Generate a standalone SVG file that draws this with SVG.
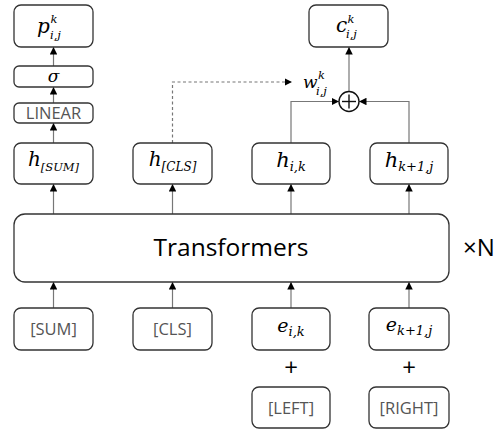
<svg xmlns="http://www.w3.org/2000/svg" width="502" height="430" viewBox="0 0 502 430">
<defs>
<style>
.box{fill:#fff;stroke:#333;stroke-width:1.3}
.lbl{font-family:"Open Sans","Noto Sans",sans-serif;font-size:16.5px;fill:#555;text-anchor:middle}
.m{font-family:"DejaVu Serif",serif;font-style:italic;fill:#000}
.mc{text-anchor:middle}
.c{fill:none;stroke:#777;stroke-width:1.2}
.d{stroke-dasharray:3,2.5}
.big{font-family:"Open Sans","Noto Sans",sans-serif;fill:#000}
</style>
<marker id="ah" viewBox="0 0 8 8" refX="8" refY="4" markerWidth="7.5" markerHeight="7.5" markerUnits="userSpaceOnUse" orient="auto">
<path d="M0,0 L8,4 L0,8 Z" fill="#000"/>
</marker>
</defs>
<rect width="502" height="430" fill="#fff"/>

<g id="connectors">
<line class="c" x1="53.5" y1="143" x2="53.5" y2="123" marker-end="url(#ah)"/>
<line class="c" x1="53.5" y1="103" x2="53.5" y2="87" marker-end="url(#ah)"/>
<line class="c" x1="53.5" y1="66" x2="53.5" y2="47" marker-end="url(#ah)"/>
<line class="c" x1="53.5" y1="214" x2="53.5" y2="184" marker-end="url(#ah)"/>
<line class="c" x1="172.5" y1="214" x2="172.5" y2="184" marker-end="url(#ah)"/>
<line class="c" x1="291" y1="214" x2="291" y2="184" marker-end="url(#ah)"/>
<line class="c" x1="409" y1="214" x2="409" y2="184" marker-end="url(#ah)"/>
<line class="c" x1="53.5" y1="308" x2="53.5" y2="282" marker-end="url(#ah)"/>
<line class="c" x1="172.5" y1="308" x2="172.5" y2="282" marker-end="url(#ah)"/>
<line class="c" x1="291" y1="308" x2="291" y2="282" marker-end="url(#ah)"/>
<line class="c" x1="409" y1="308" x2="409" y2="282" marker-end="url(#ah)"/>
<polyline class="c d" points="172.5,143 172.5,82 292,82" marker-end="url(#ah)"/>
<polyline class="c" points="291,143 291,101.5 339,101.5" marker-end="url(#ah)"/>
<polyline class="c" points="409,143 409,101.5 359,101.5" marker-end="url(#ah)"/>
<line class="c" x1="349" y1="91.5" x2="349" y2="47" marker-end="url(#ah)"/>
</g>

<g id="n-p">
<rect class="box" x="14" y="5" width="79" height="42" rx="7"/>
<text class="m" x="37" y="33" font-size="20">p</text>
<text class="m" x="50.5" y="23" font-size="11.5">k</text>
<text class="m" x="50" y="39" font-size="11.5">i,j</text>
</g>
<g id="n-sigma">
<rect class="box" x="14" y="66" width="79" height="21" rx="5"/>
<text class="m mc" x="53.5" y="82" font-size="17">σ</text>
</g>
<g id="n-linear">
<rect class="box" x="14" y="103" width="79" height="20" rx="5"/>
<text class="lbl" x="53.5" y="119" font-size="15.5">LINEAR</text>
</g>
<g id="n-hsum">
<rect class="box" x="14" y="143" width="79" height="41" rx="7"/>
<text class="m mc" x="53.5" y="166"><tspan font-size="20">h</tspan><tspan font-size="11.5" dy="5">[SUM]</tspan></text>
</g>
<g id="n-hcls">
<rect class="box" x="133" y="143" width="79" height="41" rx="7"/>
<text class="m mc" x="172.5" y="166"><tspan font-size="20">h</tspan><tspan font-size="12" dy="5">[CLS]</tspan></text>
</g>
<g id="n-hik">
<rect class="box" x="252" y="143" width="78" height="41" rx="7"/>
<text class="m mc" x="291" y="167"><tspan font-size="21">h</tspan><tspan font-size="13" dy="4">i,k</tspan></text>
</g>
<g id="n-hk1j">
<rect class="box" x="370" y="143" width="78" height="41" rx="7"/>
<text class="m mc" x="409" y="167"><tspan font-size="21">h</tspan><tspan font-size="13" dy="4">k+1,j</tspan></text>
</g>
<g id="n-c">
<rect class="box" x="309" y="5" width="79" height="42" rx="7"/>
<text class="m" x="336" y="32" font-size="20">c</text>
<text class="m" x="347.5" y="23" font-size="11.5">k</text>
<text class="m" x="346" y="38" font-size="11.5">i,j</text>
</g>
<g id="n-w">
<text class="m" x="303" y="88" font-size="17">w</text>
<text class="m" x="318" y="79" font-size="11.5">k</text>
<text class="m" x="316" y="95" font-size="11.5">i,j</text>
</g>
<g id="n-plus">
<circle cx="349" cy="101.5" r="10" fill="#fff" stroke="#111" stroke-width="1.4"/>
<line x1="342" y1="101.5" x2="356" y2="101.5" stroke="#111" stroke-width="1.4"/>
<line x1="349" y1="94.5" x2="349" y2="108.5" stroke="#111" stroke-width="1.4"/>
</g>
<g id="n-transformers">
<rect class="box" x="14" y="214" width="435" height="68" rx="11"/>
<text class="big" x="231" y="256" text-anchor="middle" font-size="24.5">Transformers</text>
</g>
<text class="big" x="463" y="256" font-size="24">×N</text>

<g id="n-sum">
<rect class="box" x="14" y="308" width="79" height="42" rx="7"/>
<text class="lbl" x="53.5" y="335">[SUM]</text>
</g>
<g id="n-cls">
<rect class="box" x="133" y="308" width="79" height="42" rx="7"/>
<text class="lbl" x="172.5" y="335">[CLS]</text>
</g>
<g id="n-eik">
<rect class="box" x="252" y="308" width="78" height="42" rx="7"/>
<text class="m mc" x="291" y="332"><tspan font-size="19">e</tspan><tspan font-size="13" dy="4">i,k</tspan></text>
</g>
<g id="n-ek1j">
<rect class="box" x="369" y="308" width="80" height="42" rx="7"/>
<text class="m mc" x="409" y="331"><tspan font-size="19">e</tspan><tspan font-size="13" dy="4">k+1,j</tspan></text>
</g>
<text class="big" x="291" y="376" text-anchor="middle" font-size="24">+</text>
<text class="big" x="409" y="376" text-anchor="middle" font-size="24">+</text>
<g id="n-left">
<rect class="box" x="252" y="387" width="78" height="41" rx="7"/>
<text class="lbl" x="291" y="414">[LEFT]</text>
</g>
<g id="n-right">
<rect class="box" x="369" y="387" width="80" height="41" rx="7"/>
<text class="lbl" x="409" y="414">[RIGHT]</text>
</g>
</svg>
